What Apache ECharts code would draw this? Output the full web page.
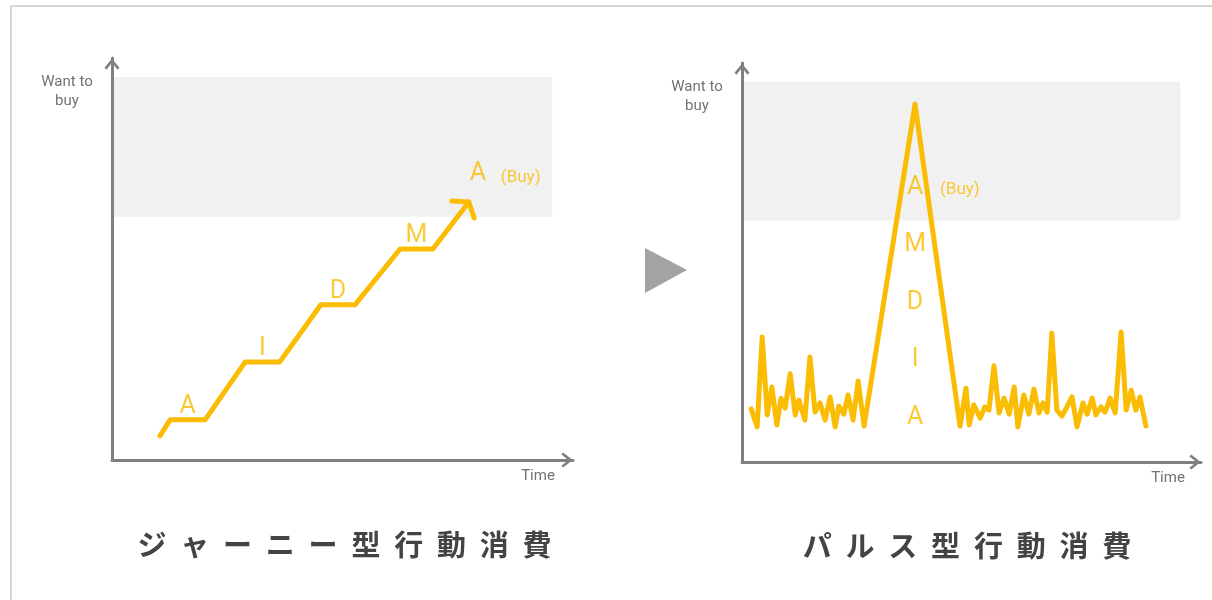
<!DOCTYPE html>
<html>
<head>
<meta charset="utf-8">
<script src="https://cdn.jsdelivr.net/npm/echarts@6/dist/echarts.min.js"></script>
<style>
  html, body { margin: 0; padding: 0; background: #ffffff; }
  #chart { width: 1212px; height: 600px; }
</style>
</head>
<body>
<div id="chart"></div>
<script>
// Journey-type buying: a staircase climbing through the AIDMA stages
const journeyX = [10.4, 12.6, 20.2, 28.9, 36.4, 45.3, 52.7, 62.5, 69.6, 77.4];
const journeyY = [6.0, 10.0, 10.0, 24.4, 24.4, 38.6, 38.6, 52.5, 52.5, 64.2];
const journeyStages = ['A', 'I', 'D', 'M'];
const buyStage = 'A';
const buyNote = '(Buy)';

// Pulse-type buying: low noisy interest, then one sharp spike
const pulseX = [2.0, 3.3, 4.4, 5.5, 6.5, 7.6, 8.5, 9.4, 10.5, 11.6, 12.4, 13.7, 14.8, 15.9, 17.0, 18.1,
  19.2, 20.3, 21.1, 22.2, 23.1, 24.2, 25.3, 26.6, 37.7, 47.5, 48.8, 49.5, 50.5, 51.9, 52.9, 53.8,
  54.9, 56.0, 57.1, 58.2, 59.3, 60.1, 61.4, 62.5, 63.6, 64.7, 65.6, 66.5, 67.5, 68.6, 69.7, 70.8,
  71.9, 73.0, 74.3, 75.2, 76.3, 77.1, 78.2, 79.1, 80.2, 81.3, 82.6, 83.7, 84.8, 85.8, 86.7, 88.0];
const pulseY = [13.3, 8.8, 31.3, 11.8, 18.8, 9.3, 16.0, 13.5, 22.1, 11.8, 15.5, 10.5, 26.3, 12.5, 14.8, 10.5,
  16.3, 8.8, 14.0, 12.0, 16.8, 10.5, 20.3, 9.0, 89.7, 9.0, 18.5, 9.3, 14.3, 11.0, 13.8, 13.0,
  24.1, 12.3, 16.0, 12.0, 18.8, 8.8, 16.8, 12.0, 18.3, 12.3, 14.8, 12.5, 32.3, 13.0, 11.5, 13.8,
  16.3, 8.8, 14.8, 12.0, 16.0, 11.8, 13.8, 12.5, 16.0, 12.3, 32.6, 13.0, 18.0, 13.0, 16.3, 9.0];
const pulseStages = ['A', 'I', 'D', 'M', 'A'];
const pulseStageLevels = [11.8, 26.3, 40.6, 55.1, 69.4];

// "Want to buy" zone shaded on both panels
const buyZoneX = [0, 95.5];
const buyZoneY = [60.5, 95.3];

const panelTitles = ['ジャーニー型行動消費', 'パルス型行動消費'];
const yAxisName = 'Want to\nbuy';
const xAxisName = 'Time';

const YELLOW = '#FBBC04';
const AXIS_GRAY = '#808080';
const NAME_GRAY = '#727272';
const LATIN = 'Roboto, "Noto Sans", sans-serif';
const CJK = '"Noto Sans CJK JP", sans-serif';

// open chevron used as the axis arrow heads
const CHEVRON = 'path://M8,0 L16,10 L14,12 L8,4.6 L2,12 L0,10 Z';

const chart = echarts.init(document.getElementById('chart'), null, { renderer: 'canvas' });

function xAxisFor(gridIndex, nameGap) {
  return {
    gridIndex, type: 'value', min: 0, max: 100, z: 10,
    axisLine: {
      show: true, onZero: false,
      symbol: ['none', CHEVRON], symbolSize: [15, 12], symbolOffset: [0, -6],
      lineStyle: { color: AXIS_GRAY, width: 3 }
    },
    axisTick: { show: false }, axisLabel: { show: false }, splitLine: { show: false },
    name: xAxisName, nameLocation: 'end', nameGap,
    nameTextStyle: { color: NAME_GRAY, fontFamily: LATIN, fontSize: 15, align: 'center', verticalAlign: 'top', padding: [9, 0, 0, 0] }
  };
}
function yAxisFor(gridIndex) {
  return {
    gridIndex, type: 'value', min: 0, max: 100, z: 10,
    axisLine: {
      show: true, onZero: false,
      symbol: ['none', CHEVRON], symbolSize: [15, 12], symbolOffset: [0, -6],
      lineStyle: { color: AXIS_GRAY, width: 3 }
    },
    axisTick: { show: false }, axisLabel: { show: false }, splitLine: { show: false },
    name: yAxisName, nameLocation: 'end', nameGap: -15,
    nameTextStyle: { color: NAME_GRAY, fontFamily: LATIN, fontSize: 15, lineHeight: 19, align: 'center', verticalAlign: 'top', padding: [0, 90, 0, 0] }
  };
}

const zoneArea = {
  silent: true,
  itemStyle: { color: '#f1f1f1' },
  data: [[{ coord: [buyZoneX[0], buyZoneY[0]] }, { coord: [buyZoneX[1], buyZoneY[1]] }]]
};

const lineStyle = { color: YELLOW, width: 5, join: 'round', cap: 'round' };
const stageLabel = { show: true, color: YELLOW, fontFamily: LATIN, fontSize: 25, position: 'inside' };

// journey panel: stage letters sit above each flat run of the staircase
const journeyLabels = journeyStages.map((s, i) => {
  const a = 1 + 2 * i, b = a + 1;
  return { value: [(journeyX[a] + journeyX[b]) / 2, journeyY[a]], label: { formatter: s, offset: [0, -13] } };
});
const nJ = journeyX.length;
const tip = [journeyX[nJ - 1], journeyY[nJ - 1]];
journeyLabels.push({ value: tip, label: { formatter: buyStage, offset: [9, -28] } });
journeyLabels.push({ value: tip, label: { formatter: buyNote, fontSize: 17, align: 'left', offset: [32, -24] } });

// pulse panel: stage letters stacked inside the spike
let peakIdx = 0;
pulseY.forEach((v, i) => { if (v > pulseY[peakIdx]) peakIdx = i; });
const peakX = pulseX[peakIdx];
const pulseLabels = pulseStages.map((s, i) => ({ value: [peakX, pulseStageLevels[i]], label: { formatter: s, offset: [0, 3] } }));
pulseLabels.push({
  value: [peakX, pulseStageLevels[pulseStageLevels.length - 1]],
  label: { formatter: buyNote, fontSize: 17, align: 'left', offset: [25, 5] }
});

function titleChars(text, cx, cy) {
  const step = 42.8;
  return text.split('').map((ch, i) => ({
    type: 'text',
    x: cx + (i - (text.length - 1) / 2) * step,
    y: cy,
    silent: true,
    style: {
      text: ch, fill: '#444444', fontFamily: CJK, fontSize: 29, fontWeight: 'bold',
      align: 'center', verticalAlign: 'middle', textAlign: 'center', textVerticalAlign: 'middle'
    }
  }));
}

const option = {
  backgroundColor: '#ffffff',
  animation: false,
  grid: [
    { left: 112, top: 58, width: 461, height: 402 },
    { left: 742, top: 63, width: 459, height: 399 }
  ],
  xAxis: [xAxisFor(0, -35), xAxisFor(1, -33)],
  yAxis: [yAxisFor(0), yAxisFor(1)],
  series: [
    {
      type: 'line', xAxisIndex: 0, yAxisIndex: 0, silent: true,
      data: journeyX.map((x, i) => [x, journeyY[i]]),
      showSymbol: false, symbol: 'none', lineStyle,
      markArea: zoneArea
    },
    {
      // arrow head at the end of the staircase, aimed along its last segment
      type: 'custom', xAxisIndex: 0, yAxisIndex: 0, silent: true, clip: false,
      data: [[tip[0], tip[1], journeyX[nJ - 2], journeyY[nJ - 2]]],
      encode: { x: [0, 2], y: [1, 3] },
      renderItem: function (params, api) {
        const p = api.coord([api.value(0), api.value(1)]);
        const q = api.coord([api.value(2), api.value(3)]);
        const ang = Math.atan2(q[1] - p[1], q[0] - p[0]);
        const len = 17, spread = Math.PI * 0.31;
        return {
          type: 'polyline',
          shape: { points: [
            [p[0] + len * Math.cos(ang + spread), p[1] + len * Math.sin(ang + spread)],
            p,
            [p[0] + len * Math.cos(ang - spread), p[1] + len * Math.sin(ang - spread)]
          ] },
          style: { stroke: YELLOW, lineWidth: 5, fill: null, lineCap: 'round', lineJoin: 'round' }
        };
      }
    },
    {
      type: 'scatter', xAxisIndex: 0, yAxisIndex: 0, silent: true,
      symbolSize: 0, label: stageLabel, data: journeyLabels
    },
    {
      type: 'line', xAxisIndex: 1, yAxisIndex: 1, silent: true,
      data: pulseX.map((x, i) => [x, pulseY[i]]),
      showSymbol: false, symbol: 'none', lineStyle,
      markArea: zoneArea
    },
    {
      type: 'scatter', xAxisIndex: 1, yAxisIndex: 1, silent: true,
      symbolSize: 0, label: stageLabel, data: pulseLabels
    }
  ],
  graphic: [
    {
      type: 'rect', silent: true, z: -10,
      shape: { x: 11, y: 6, width: 1400, height: 800 },
      style: { fill: null, stroke: '#d6d6d6', lineWidth: 2 }
    },
    {
      type: 'polygon', silent: true,
      shape: { points: [[645, 248], [687, 270], [645, 293]] },
      style: { fill: '#a3a3a3' }
    },
    ...titleChars(panelTitles[0], 344.5, 545),
    ...titleChars(panelTitles[1], 967, 546)
  ]
};

chart.setOption(option);
</script>
</body>
</html>
